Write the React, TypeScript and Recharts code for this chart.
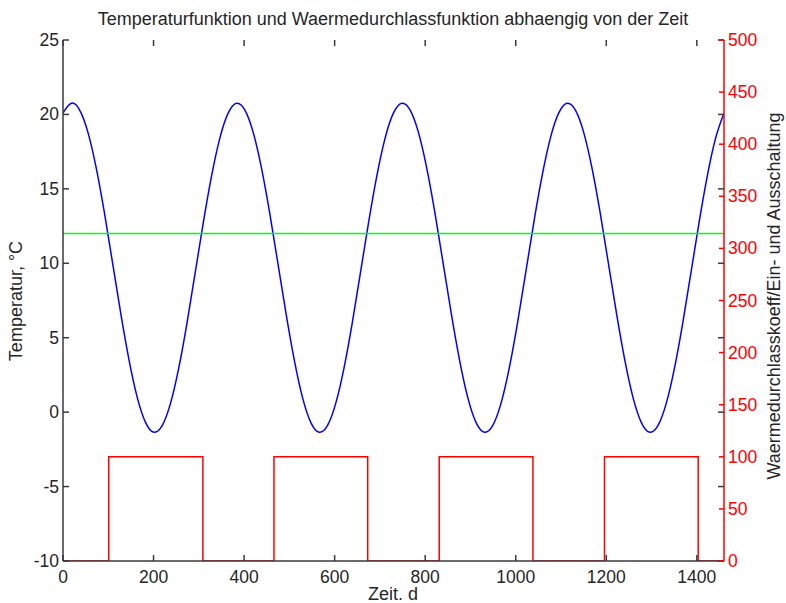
import { ComposedChart, Line, XAxis, YAxis } from 'recharts';

// Zeit in Tagen (blaue Kurve)
const days = [
  0, 18.25, 36.5, 54.75, 73, 91.25, 109.5, 127.75, 146, 164.25, 182.5, 200.75, 219, 237.25, 255.5, 273.75, 292, 310.25, 328.5, 346.75,
  365, 383.25, 401.5, 419.75, 438, 456.25, 474.5, 492.75, 511, 529.25, 547.5, 565.75, 584, 602.25, 620.5, 638.75, 657, 675.25, 693.5, 711.75,
  730, 748.25, 766.5, 784.75, 803, 821.25, 839.5, 857.75, 876, 894.25, 912.5, 930.75, 949, 967.25, 985.5, 1003.75, 1022, 1040.25, 1058.5, 1076.75,
  1095, 1113.25, 1131.5, 1149.75, 1168, 1186.25, 1204.5, 1222.75, 1241, 1259.25, 1277.5, 1295.75, 1314, 1332.25, 1350.5, 1368.75, 1387, 1405.25, 1423.5, 1441.75,
  1460,
];

// Temperatur in °C
const temps = [
  20.1, 20.75, 20.31, 18.83, 16.46, 13.43, 10.03, 6.6, 3.48, 0.96, -0.7, -1.35, -0.91, 0.57, 2.94, 5.97, 9.37, 12.8, 15.92, 18.44,
  20.1, 20.75, 20.31, 18.83, 16.46, 13.43, 10.03, 6.6, 3.48, 0.96, -0.7, -1.35, -0.91, 0.57, 2.94, 5.97, 9.37, 12.8, 15.92, 18.44,
  20.1, 20.75, 20.31, 18.83, 16.46, 13.43, 10.03, 6.6, 3.48, 0.96, -0.7, -1.35, -0.91, 0.57, 2.94, 5.97, 9.37, 12.8, 15.92, 18.44,
  20.1, 20.75, 20.31, 18.83, 16.46, 13.43, 10.03, 6.6, 3.48, 0.96, -0.7, -1.35, -0.91, 0.57, 2.94, 5.97, 9.37, 12.8, 15.92, 18.44,
  20.1,
];

// Grenztemperatur
const limitDays = [0, 1460];
const limitTemps = [12, 12];

// Ein-/Ausschaltung (rechte Achse)
const switchDays = [0, 101, 309, 466, 673, 831, 1038, 1196, 1403, 1460];
const switchValues = [0, 100, 0, 100, 0, 100, 0, 100, 0, 0];

const xTicks = [0, 200, 400, 600, 800, 1000, 1200, 1400];
const leftTicks = [-10, -5, 0, 5, 10, 15, 20, 25];
const rightTicks = [0, 50, 100, 150, 200, 250, 300, 350, 400, 450, 500];

const tempData = days.map((d, i) => ({ day: d, temp: temps[i] }));
const limitData = limitDays.map((d, i) => ({ day: d, limit: limitTemps[i] }));
const switchData = switchDays.map((d, i) => ({ day: d, state: switchValues[i] }));

const W = 786;
const H = 603;
const LEFT = 63;
const RIGHT = 62;
const TOP = 40;
const BOTTOM = 42;
const plotRight = W - RIGHT;
const plotBottom = H - BOTTOM;
const TICK = 6;

const FONT = '"Liberation Sans", Arial, sans-serif';
const FS = 17.5;
const AXIS = '#3a3a3a';
const TEXT = '#262626';
const RED = '#ff0000';

// MATLAB-artige Ticks: nach innen, auf beiden Seiten
const BottomTick = ({ x, payload }: any) => (
  <g>
    <line x1={x} x2={x} y1={plotBottom} y2={plotBottom - TICK} stroke={AXIS} strokeWidth={1.5} />
    <line x1={x} x2={x} y1={TOP} y2={TOP + TICK} stroke={AXIS} strokeWidth={1.5} />
    <text x={x} y={plotBottom + 22} textAnchor="middle" fill={TEXT} fontSize={FS} fontFamily={FONT}>
      {payload.value}
    </text>
  </g>
);

const LeftTick = ({ y, payload }: any) => (
  <g>
    <line x1={LEFT} x2={LEFT + TICK} y1={y} y2={y} stroke={AXIS} strokeWidth={1.5} />
    <line x1={plotRight - TICK} x2={plotRight} y1={y} y2={y} stroke={AXIS} strokeWidth={1.5} />
    <text x={LEFT - 4} y={y + 6} textAnchor="end" fill={TEXT} fontSize={FS} fontFamily={FONT}>
      {payload.value}
    </text>
  </g>
);

const RightTick = ({ y, payload }: any) => (
  <g>
    <line x1={plotRight - 5} x2={plotRight} y1={y} y2={y} stroke={RED} strokeWidth={1.5} />
    <text x={plotRight + 4} y={y + 6} textAnchor="start" fill={RED} fontSize={FS} fontFamily={FONT}>
      {payload.value}
    </text>
  </g>
);

export default function App() {
  return (
    <div style={{ position: 'absolute', left: 0, top: 0, width: W, height: H, background: '#fff' }}>
      <ComposedChart width={W} height={H} margin={{ top: TOP, right: 0, bottom: 0, left: 0 }}>
        <XAxis
          dataKey="day"
          type="number"
          domain={[0, 1460]}
          ticks={xTicks}
          height={BOTTOM}
          tickSize={0}
          tickLine={false}
          stroke={AXIS}
          strokeWidth={1.5}
          tick={<BottomTick />}
          allowDataOverflow
        />
        <XAxis
          xAxisId="top"
          orientation="top"
          type="number"
          domain={[0, 1460]}
          height={0}
          tickLine={false}
          tick={false}
          stroke={AXIS}
          strokeWidth={1.5}
          allowDataOverflow
        />
        <YAxis
          yAxisId="left"
          type="number"
          domain={[-10, 25]}
          ticks={leftTicks}
          width={LEFT}
          tickSize={0}
          tickLine={false}
          stroke={AXIS}
          strokeWidth={1.5}
          tick={<LeftTick />}
          allowDataOverflow
        />
        <YAxis
          yAxisId="right"
          orientation="right"
          type="number"
          domain={[0, 500]}
          ticks={rightTicks}
          width={RIGHT}
          tickSize={0}
          tickLine={false}
          stroke={RED}
          strokeWidth={1.5}
          tick={<RightTick />}
          allowDataOverflow
        />
        <Line
          yAxisId="left"
          data={tempData}
          dataKey="temp"
          type="natural"
          stroke="#0000ff"
          strokeWidth={1.5}
          dot={false}
          isAnimationActive={false}
        />
        <Line
          yAxisId="left"
          data={limitData}
          dataKey="limit"
          type="linear"
          stroke="#00ff00"
          strokeWidth={1.5}
          dot={false}
          isAnimationActive={false}
        />
        <Line
          yAxisId="right"
          data={switchData}
          dataKey="state"
          type="stepAfter"
          stroke={RED}
          strokeWidth={1.5}
          dot={false}
          isAnimationActive={false}
        />
      </ComposedChart>
      <svg width={W} height={H} style={{ position: 'absolute', left: 0, top: 0, pointerEvents: 'none' }}>
        <g fontFamily={FONT} fontSize={18} fill={TEXT}>
          <text x={393} y={25} textAnchor="middle">
            Temperaturfunktion und Waermedurchlassfunktion abhaengig von der Zeit
          </text>
          <text x={393} y={600} textAnchor="middle">
            Zeit. d
          </text>
          <text transform="translate(22,301) rotate(-90)" textAnchor="middle">
            Temperatur, °C
          </text>
          <text transform="translate(780,296) rotate(-90)" textAnchor="middle">
            Waermedurchlasskoeff/Ein- und Ausschaltung
          </text>
        </g>
      </svg>
    </div>
  );
}
